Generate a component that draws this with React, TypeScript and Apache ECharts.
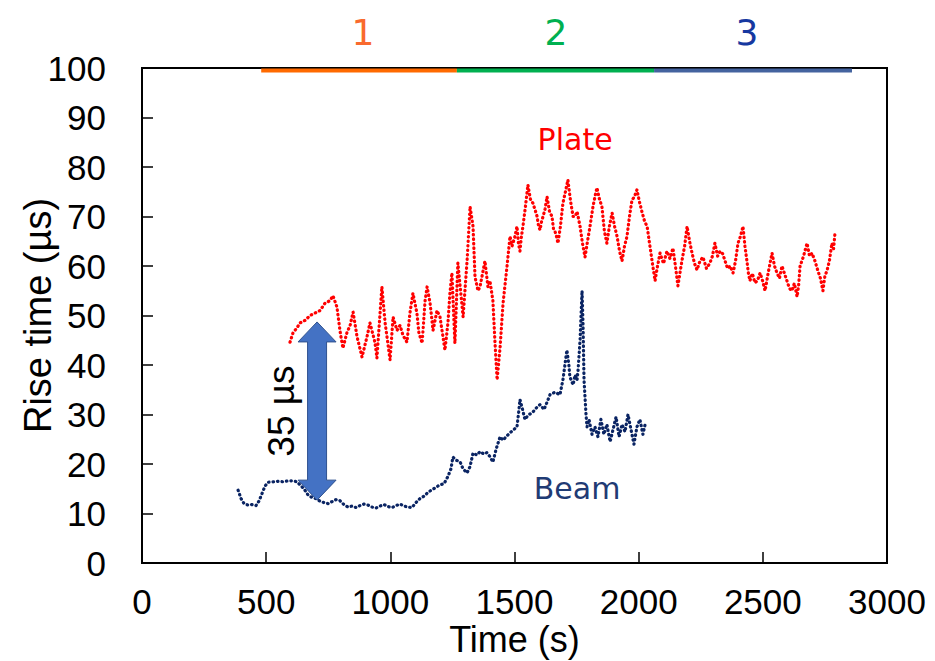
import React, { useEffect, useRef } from "react";
import * as echarts from "echarts";

// Plate rise time (red) – time in s, rise time in µs
const plateTime = [
  596, 608, 624, 636, 656, 677, 697, 717, 737, 757, 769, 785, 797, 809, 825, 838, 850, 866, 886, 906,
  918, 938, 946, 958, 966, 979, 999, 1011, 1027, 1039, 1051, 1067, 1079, 1091, 1107, 1115, 1128, 1140, 1148, 1160,
  1172, 1188, 1200, 1220, 1232, 1240, 1248, 1260, 1272, 1293, 1309, 1321, 1333, 1341, 1353, 1361, 1381, 1393, 1401, 1413,
  1421, 1430, 1442, 1454, 1470, 1482, 1490, 1502, 1510, 1516, 1522, 1528, 1534, 1544, 1554, 1564, 1574, 1582, 1591, 1597,
  1603, 1609, 1615, 1623, 1631, 1641, 1651, 1657, 1663, 1669, 1675, 1685, 1695, 1705, 1715, 1726, 1736, 1744, 1752, 1758,
  1764, 1774, 1784, 1794, 1804, 1810, 1816, 1824, 1832, 1842, 1852, 1862, 1872, 1882, 1893, 1903, 1913, 1923, 1933, 1943,
  1953, 1963, 1973, 1983, 1993, 2003, 2013, 2024, 2034, 2044, 2054, 2060, 2066, 2076, 2086, 2100, 2114, 2126, 2138, 2148,
  2158, 2166, 2174, 2185, 2195, 2205, 2215, 2225, 2235, 2247, 2259, 2273, 2287, 2297, 2307, 2318, 2328, 2338, 2348, 2358,
  2368, 2380, 2390, 2400, 2410, 2420, 2428, 2436, 2442, 2448, 2458, 2468, 2478, 2489, 2499, 2509, 2523, 2537, 2547, 2557,
  2567, 2577, 2587, 2597, 2607, 2617, 2627, 2638, 2644, 2650, 2664, 2678, 2688, 2698, 2710, 2722, 2732, 2742, 2750, 2758,
  2768, 2778, 2785, 2791,
];
const plateRise = [
  44.6, 46.5, 47.5, 48.5, 49, 50, 50.5, 51, 52.5, 53, 54, 51.7, 47, 43.4, 46.5, 48, 50.7, 45.7, 41.6, 45.7,
  48.5, 44.6, 41.4, 50, 55.8, 48.5, 41, 49.7, 47, 48, 46, 44.6, 50.5, 54.5, 50.5, 46.5, 44.4, 53, 55.8, 52.5,
  47, 51, 49.7, 43, 48.5, 54.5, 58.6, 44.4, 60.6, 49.7, 61, 72, 68, 57.8, 55, 55.8, 61, 55.8, 57, 53,
  45, 37, 43.6, 52.5, 60, 66, 64, 66, 68, 64.5, 63, 66, 68, 72, 76.4, 73.5, 72.7, 71.5, 70, 68,
  67.3, 69, 70, 71.5, 74, 71, 70, 67.5, 67, 66, 64.6, 68, 72.7, 75, 77.4, 73, 70, 70, 71, 69.5,
  68, 64.5, 61.8, 65, 68, 70, 72, 74, 75.8, 73.5, 72, 67, 64.6, 68, 70.7, 68, 66, 63, 61, 64,
  66, 70, 73.3, 74, 75.4, 73, 71, 69, 68, 64.5, 61, 59, 57, 60, 62.6, 60.5, 63, 61.5, 63.6, 60,
  56, 58.5, 61, 64, 68, 65, 62.6, 60.5, 59.2, 61, 61.8, 59.5, 60.6, 62, 64.6, 62, 63, 62.5, 61, 59.5,
  60, 58.6, 61, 64.6, 66, 68, 64, 61, 58.5, 57, 58.5, 56.6, 57, 58.6, 57, 55, 59, 62.6, 60, 58.6,
  57.5, 60, 58.5, 57, 55.5, 55, 56.5, 53.8, 56, 60, 62, 64.6, 62, 62.6, 61, 59, 57.5, 55, 58, 59,
  61, 64.6, 63.5, 66.9,
];

// Beam rise time (navy)
const beamTime = [
  387, 399, 411, 427, 443, 459, 471, 483, 495, 507, 528, 548, 568, 588, 608, 624, 636, 652, 668, 685,
  701, 717, 733, 749, 765, 781, 797, 813, 830, 846, 862, 878, 894, 910, 926, 942, 958, 975, 991, 1007,
  1023, 1039, 1055, 1071, 1087, 1103, 1119, 1136, 1152, 1168, 1184, 1200, 1216, 1232, 1244, 1252, 1264, 1281, 1293, 1309,
  1321, 1333, 1349, 1361, 1377, 1389, 1401, 1413, 1426, 1442, 1454, 1466, 1482, 1494, 1510, 1518, 1522, 1530, 1542, 1554,
  1574, 1591, 1603, 1619, 1631, 1643, 1663, 1683, 1695, 1703, 1711, 1719, 1723, 1736, 1744, 1752, 1756, 1764, 1772, 1776,
  1780, 1788, 1792, 1800, 1812, 1824, 1836, 1848, 1860, 1872, 1885, 1897, 1909, 1921, 1933, 1945, 1957, 1969, 1981, 1993,
  2005, 2017, 2026,
];
const beamRise = [
  14.7, 13, 12, 11.7, 11.8, 11.6, 12.5, 14, 15.5, 16.3, 16.4, 16.5, 16.4, 16.6, 16.6, 16.4, 15.8, 15, 13.8, 13.2,
  13, 12.5, 12.2, 12, 12.4, 12.8, 12.6, 11.8, 11.3, 11.5, 11.2, 11.6, 11.9, 11.7, 11.3, 11.1, 11.5, 11.8, 11.4, 11.2,
  11.6, 11.9, 11.5, 11.3, 11.2, 12.2, 13, 13.5, 14.3, 14.8, 15.3, 15.8, 16, 17.5, 19, 21.4, 20.8, 20.4, 19, 18.2,
  19.5, 22.2, 21.8, 22.5, 22, 22.3, 21.5, 20.4, 23, 25.5, 24.8, 25.5, 26.3, 26.8, 27.5, 31, 33, 31.5, 29, 29.8,
  30.5, 31.5, 32, 31, 32.5, 34, 34.5, 34, 37, 40, 43, 40, 37.6, 36, 38, 37, 39, 45, 55, 48,
  37, 30, 27.5, 29, 26, 27.5, 25.5, 29, 26, 28, 24.5, 27, 29.5, 25.5, 28, 26.5, 30, 27, 24, 27.5,
  29, 26, 28,
];

// Test phases drawn on top of the plot
const phaseNames = ["1", "2", "3"];
const phaseStart = [480, 1268, 2062];
const phaseEnd = [1268, 2062, 2859];
const phaseLabelTime = [890, 1667, 2436];
const phaseLevel = 99.5;
const phaseBarColors = ["#FF6A00", "#00B050", "#44639F"];
const phaseTextColors = ["#F96A2E", "#00B050", "#1638A0"];

// Curve labels
const curveNames = ["Plate", "Beam"];
const curveLabelTime = [1744, 1752];
const curveLabelRise = [85.5, 15];
const curveLabelColors = ["#FF0000", "#1F3B74"];

// Difference arrow
const arrowTime = 705;
const arrowTop = 48.7;
const arrowBottom = 12.7;
const arrowText = "35 µs";

const FONT = '"Liberation Sans", Arial, sans-serif';
const FONT2 = '"DejaVu Sans", Verdana, sans-serif';

export default function App() {
  const ref = useRef<HTMLDivElement>(null);

  useEffect(() => {
    if (!ref.current) return;
    const chart = echarts.init(ref.current, null, { renderer: "svg" });

    const dotted = (color: string) => ({
      color,
      width: 3.2,
      type: [0.5, 4] as any,
      cap: "round" as const,
      join: "round" as const,
    });

    const series: any[] = [
      {
        type: "line",
        name: "Plate",
        data: plateTime.map((t, i) => [t, plateRise[i]]),
        showSymbol: false,
        symbol: "none",
        lineStyle: dotted("#FF0000"),
        z: 3,
      },
      {
        type: "line",
        name: "Beam",
        data: beamTime.map((t, i) => [t, beamRise[i]]),
        showSymbol: false,
        symbol: "none",
        lineStyle: dotted("#0A2463"),
        z: 3,
      },
      ...phaseNames.map((n, i) => ({
        type: "line",
        name: "phase" + n,
        data: [
          [phaseStart[i], phaseLevel],
          [phaseEnd[i], phaseLevel],
        ],
        showSymbol: false,
        symbol: "none",
        lineStyle: { color: phaseBarColors[i], width: 4 },
        z: 4,
      })),
    ];

    chart.setOption({
      animation: false,
      backgroundColor: "#fff",
      grid: {
        left: 142,
        right: 48,
        top: 68,
        bottom: 98,
        containLabel: false,
        outerBoundsMode: "none",
        show: true,
        borderColor: "#000",
        borderWidth: 2,
        backgroundColor: "transparent",
      },
      xAxis: {
        type: "value",
        min: 0,
        max: 3000,
        interval: 500,
        name: "Time (s)",
        nameLocation: "middle",
        nameGap: 58,
        nameMoveOverlap: false,
        nameTextStyle: { fontFamily: FONT, fontSize: 36, color: "#000" },
        axisLine: { show: true, onZero: false, lineStyle: { color: "#000", width: 2 } },
        axisTick: { show: true, inside: true, length: 11, lineStyle: { color: "#000", width: 1.5 } },
        axisLabel: {
          fontFamily: FONT,
          fontSize: 35,
          color: "#000",
          margin: 21,
          formatter: (v: number) => String(v),
        },
        splitLine: { show: false },
      },
      yAxis: {
        type: "value",
        min: 0,
        max: 100,
        interval: 10,
        name: "Rise time (µs)",
        nameLocation: "middle",
        nameGap: 85,
        nameMoveOverlap: false,
        nameTextStyle: { fontFamily: FONT, fontSize: 38, color: "#000" },
        axisLine: { show: true, onZero: false, lineStyle: { color: "#000", width: 2 } },
        axisTick: { show: true, inside: true, length: 11, lineStyle: { color: "#000", width: 1.5 } },
        axisLabel: {
          fontFamily: FONT,
          fontSize: 35,
          color: "#000",
          margin: 36,
          formatter: (v: number) => String(v),
        },
        splitLine: { show: false },
      },
      series,
    });

    const p = (x: number, y: number) => chart.convertToPixel({ gridIndex: 0 }, [x, y]) as number[];

    const top = p(arrowTime, arrowTop);
    const bot = p(arrowTime, arrowBottom);
    const cx = top[0];
    const ty = top[1];
    const by = bot[1];
    const hw = 19;
    const sw = 9.5;
    const hh = 20;

    const graphic: any[] = [];
    phaseNames.forEach((n, i) => {
      const c = p(phaseLabelTime[i], 100);
      graphic.push({
        type: "text",
        x: c[0],
        y: 32,
        style: {
          text: n,
          fontFamily: FONT2,
          fontSize: 36,
          fill: phaseTextColors[i],
          align: "center",
          verticalAlign: "middle",
        },
      });
    });
    curveNames.forEach((n, i) => {
      const c = p(curveLabelTime[i], curveLabelRise[i]);
      graphic.push({
        type: "text",
        x: c[0],
        y: c[1],
        style: {
          text: n,
          fontFamily: FONT2,
          fontSize: 30,
          fill: curveLabelColors[i],
          align: "center",
          verticalAlign: "middle",
        },
      });
    });
    graphic.push({
      type: "polygon",
      shape: {
        points: [
          [cx, ty],
          [cx + hw, ty + hh],
          [cx + sw, ty + hh],
          [cx + sw, by - hh],
          [cx + hw, by - hh],
          [cx, by],
          [cx - hw, by - hh],
          [cx - sw, by - hh],
          [cx - sw, ty + hh],
          [cx - hw, ty + hh],
        ],
      },
      style: { fill: "#4472C4", stroke: "#2F528F", lineWidth: 1 },
      z: 10,
    });
    graphic.push({
      type: "text",
      x: cx - 36,
      y: (ty + by) / 2,
      rotation: Math.PI / 2,
      style: {
        text: arrowText,
        fontFamily: FONT,
        fontSize: 37,
        fill: "#000",
        align: "center",
        verticalAlign: "middle",
      },
      z: 10,
    });

    chart.setOption({ graphic });

    return () => chart.dispose();
  }, []);

  return (
    <div
      ref={ref}
      style={{ position: "fixed", left: 0, top: 0, width: 935, height: 661, background: "#fff" }}
    />
  );
}
